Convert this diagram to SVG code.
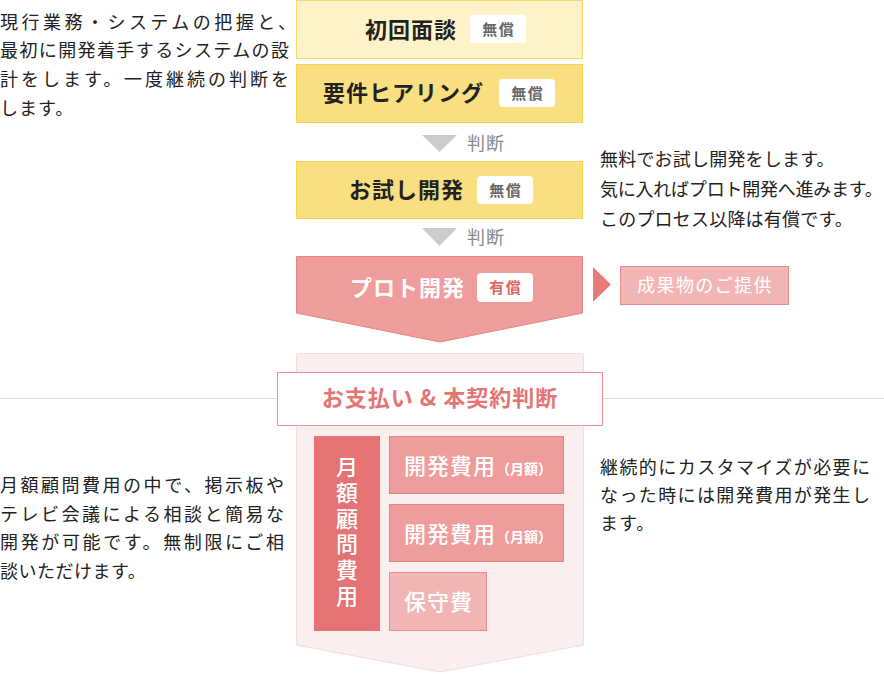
<svg xmlns="http://www.w3.org/2000/svg" width="884" height="674" viewBox="0 0 884 674">
<style>
text{font-family:"Noto Sans CJK JP","Noto Sans",sans-serif;}
.p{font-size:18px;fill:#222;}
.ttl{font-size:22px;font-weight:bold;letter-spacing:1px;}
.badge{fill:#fff;}
.bt{font-size:15px;font-weight:bold;letter-spacing:1.5px;text-anchor:middle;}
.judge{font-size:18px;fill:#888;letter-spacing:1px;}
.yel1{fill:#fdf2c8;stroke:#f8da6b;stroke-width:1;}
.yel2{fill:#f9df80;stroke:#f6d358;stroke-width:1;}
.pink{fill:#ee9c9c;stroke:#e88383;stroke-width:1;}
.lpink{fill:#f3b6b6;stroke:#ec8d8d;stroke-width:1;}
.wt{fill:#fff;font-size:22px;font-weight:500;letter-spacing:1px;}
.sub{font-size:14px;font-weight:bold;letter-spacing:0;}
</style>

<g id="divider"><line x1="0" y1="398.5" x2="884" y2="398.5" stroke="#dddddd" stroke-width="1"/></g>

<g id="note-top-left" class="p">
<text x="0" y="28.5" textLength="296" lengthAdjust="spacing">現行業務・システムの把握と、</text>
<text x="0" y="57" textLength="289" lengthAdjust="spacing">最初に開発着手するシステムの設</text>
<text x="0" y="86" textLength="289" lengthAdjust="spacing">計をします。一度継続の判断を</text>
<text x="0" y="114.5" letter-spacing="1">します。</text>
</g>

<g id="step-shokai">
<rect class="yel1" x="296.5" y="0.5" width="286" height="58"/>
<text class="ttl" x="365" y="38" fill="#222">初回面談</text>
<rect class="badge" x="470" y="15" width="56" height="28" rx="4"/>
<text class="bt" x="498.7" y="34.5" fill="#666">無償</text>
</g>

<g id="step-hearing">
<rect class="yel2" x="296.5" y="64.5" width="286" height="58"/>
<text class="ttl" x="323" y="101" fill="#222">要件ヒアリング</text>
<rect class="badge" x="499" y="79" width="56" height="28" rx="4"/>
<text class="bt" x="527.7" y="98.5" fill="#666">無償</text>
</g>

<g id="step-trial">
<rect class="yel2" x="296.5" y="161.5" width="286" height="57"/>
<text class="ttl" x="349" y="198" fill="#222">お試し開発</text>
<rect class="badge" x="477" y="176" width="56" height="28" rx="4"/>
<text class="bt" x="505.7" y="195.5" fill="#666">無償</text>
</g>

<g id="step-proto">
<polygon class="pink" points="296.5,256.5 582.5,256.5 582.5,313 440,342 296.5,313"/>
<text class="ttl" x="350" y="296" fill="#fff">プロト開発</text>
<rect class="badge" x="477" y="273" width="56" height="29" rx="4"/>
<text class="bt" x="505.7" y="293" fill="#e06464">有償</text>
</g>

<g id="note-top-right" class="p" letter-spacing="0.2">
<text x="600" y="166">無料でお試し開発をします。</text>
<text x="600" y="196" textLength="283" lengthAdjust="spacing">気に入ればプロト開発へ進みます。</text>
<text x="600" y="226">このプロセス以降は有償です。</text>
</g>

<g id="deliverable">
<rect class="lpink" x="620.5" y="266.5" width="168" height="38"/>
<text x="705" y="292" fill="#fff" font-size="18" letter-spacing="1.4" text-anchor="middle">成果物のご提供</text>
</g>

<g id="connectors">
<polygon points="422,135 457,135 439.5,152" fill="#cccccc"/>
<text class="judge" x="467" y="150">判断</text>
<polygon points="422,228 457,228 439.5,246" fill="#cccccc"/>
<text class="judge" x="467" y="244">判断</text>
<polygon points="593,267 611,284.5 593,302" fill="#e87a7a"/>
</g>

<g id="contract-panel">
<polygon points="296.5,353.5 583.5,353.5 583.5,645 440,672 296.5,645" fill="#fbeeee" stroke="#f7dcdc" stroke-width="1"/>
</g>

<g id="payment-judge">
<rect x="277.5" y="372.5" width="325" height="53" fill="#fff" stroke="#ef8f8f" stroke-width="1"/>
<text x="440" y="406" fill="#e57474" font-size="22" font-weight="bold" letter-spacing="1" text-anchor="middle">お支払い &amp; 本契約判断</text>
</g>

<g id="monthly-fee">
<rect x="314" y="436" width="66" height="195" fill="#e57373"/>
<text x="347" y="456" writing-mode="vertical-rl" fill="#fff" font-size="22" font-weight="500" letter-spacing="3.7">月額顧問費用</text>
</g>

<g id="dev-fee-1">
<rect class="pink" x="389.5" y="436.5" width="174" height="57"/>
<text class="wt" x="404" y="473.5">開発費用<tspan class="sub">（月額）</tspan></text>
</g>

<g id="dev-fee-2">
<rect class="pink" x="389.5" y="504.5" width="174" height="57"/>
<text class="wt" x="404" y="541.5">開発費用<tspan class="sub">（月額）</tspan></text>
</g>

<g id="maintenance">
<rect class="lpink" x="389.5" y="572.5" width="97" height="58"/>
<text class="wt" x="404" y="610">保守費</text>
</g>

<g id="note-bottom-left" class="p">
<text x="0" y="492" textLength="284" lengthAdjust="spacing">月額顧問費用の中で、掲示板や</text>
<text x="0" y="520.5" textLength="284" lengthAdjust="spacing">テレビ会議による相談と簡易な</text>
<text x="0" y="549" textLength="284" lengthAdjust="spacing">開発が可能です。無制限にご相</text>
<text x="0" y="577.5" letter-spacing="0.5">談いただけます。</text>
</g>

<g id="note-bottom-right" class="p">
<text x="600" y="474" textLength="270" lengthAdjust="spacing">継続的にカスタマイズが必要に</text>
<text x="600" y="502" textLength="270" lengthAdjust="spacing">なった時には開発費用が発生し</text>
<text x="600" y="530" letter-spacing="1">ます。</text>
</g>
</svg>
